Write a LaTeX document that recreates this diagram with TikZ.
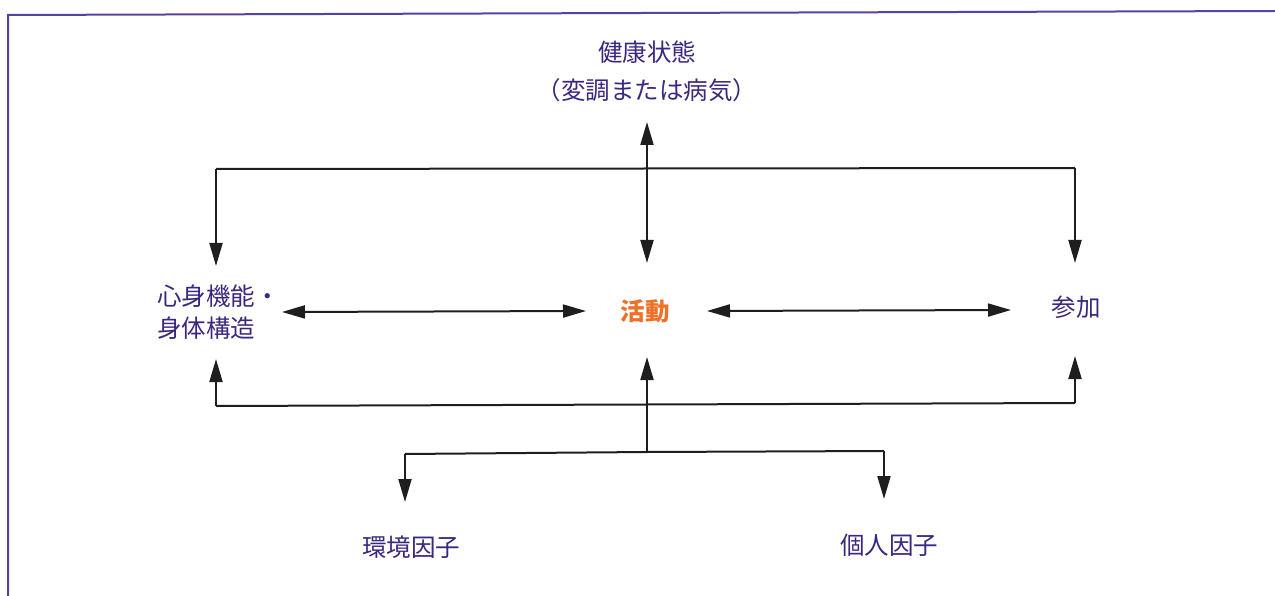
\documentclass[tikz,border=0pt]{standalone}
\usepackage{fontspec}
\newfontfamily\jp{Noto Sans CJK JP}
\usetikzlibrary{arrows.meta}
\definecolor{txtpurple}{RGB}{58,40,128}
\definecolor{framepurple}{RGB}{86,66,160}
\definecolor{actorange}{RGB}{240,112,40}
\definecolor{linegray}{RGB}{30,30,30}
\tikzset{
  lbl/.style={font=\jp\fontsize{24.5}{32}\selectfont, text=txtpurple, inner sep=0pt, align=center},
  act/.style={font=\jp\bfseries\fontsize{24.5}{32}\selectfont, text=actorange, inner sep=0pt},
  conn/.style={draw=linegray, line width=2pt, -{Triangle[length=23pt,width=13pt]}},
  dconn/.style={draw=linegray, line width=2pt, {Triangle[length=23pt,width=13pt]}-{Triangle[length=23pt,width=13pt]}},
  plain/.style={draw=linegray, line width=2pt},
  framel/.style={draw=framepurple, line width=2pt}
}
\begin{document}
\begin{tikzpicture}[x=1pt,y=-1pt]
\useasboundingbox (0,0) rectangle (1275,596);
% frame
\coordinate (fr1) at (1275,11);
\coordinate (fr2) at (8,15);
\coordinate (fr3) at (8,596);
\draw[framel] (fr1) -- (fr2) -- (fr3);

% texts
\node[lbl] (health) at (647,52) {健康状態};
\node[lbl] (health2) at (647,90) {（変調または病気）};
\node[lbl, align=left, anchor=west] (body) at (157,312) {心身機能・\\身体構造};
\node[act] (activity) at (645,311) {活動};
\node[lbl] (part) at (1076,307) {参加};
\node[lbl] (env) at (411,547) {環境因子};
\node[lbl] (pers) at (889,545) {個人因子};

% coordinates
\coordinate (vt) at (647,122);
\coordinate (vb) at (647,263);
\coordinate (tl) at (216,169);
\coordinate (tr) at (1075,168);
\coordinate (tla) at (216,266);
\coordinate (tra) at (1075,263);
\coordinate (ml1) at (282,312);
\coordinate (ml2) at (586,311);
\coordinate (mr1) at (707,311);
\coordinate (mr2) at (1011,310);
\coordinate (bl) at (216,406);
\coordinate (br) at (1075,403);
\coordinate (bla) at (216,359);
\coordinate (bra) at (1075,356);
\coordinate (cb) at (647,452);
\coordinate (ca) at (647,357);
\coordinate (ll) at (405,454);
\coordinate (lr) at (884,451);
\coordinate (lla) at (405,502);
\coordinate (lra) at (884,499);

% connectors
\draw[dconn] (vt) -- (vb);
\draw[plain] (tl) -- (tr);
\draw[conn] (tl) -- (tla);
\draw[conn] (tr) -- (tra);
\draw[dconn] (ml1) -- (ml2);
\draw[dconn] (mr1) -- (mr2);
\draw[conn] (bl) -- (bla);
\draw[conn] (br) -- (bra);
\draw[plain] (bl) -- (br);
\draw[conn] (cb) -- (ca);
\draw[plain] (ll) -- (cb) -- (lr);
\draw[conn] (ll) -- (lla);
\draw[conn] (lr) -- (lra);
\end{tikzpicture}
\end{document}
